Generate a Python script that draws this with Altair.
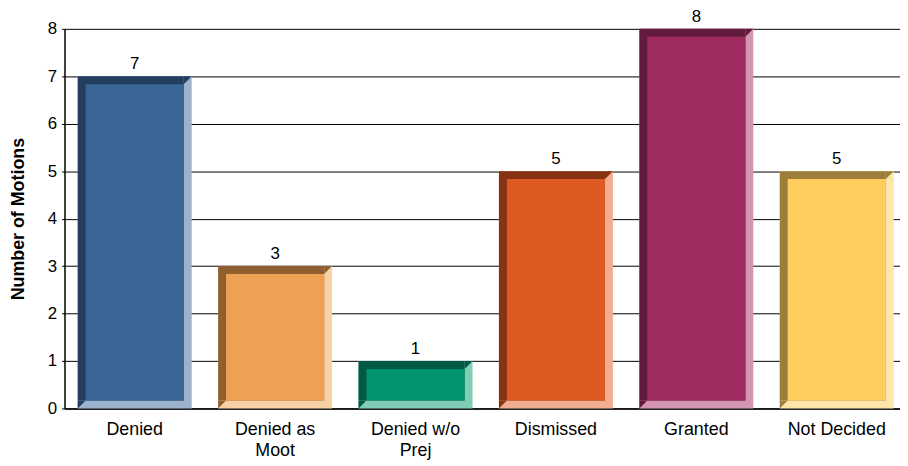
import altair as alt
import pandas as pd

categories = ["Denied", "Denied as Moot", "Denied w/o Prej", "Dismissed", "Granted", "Not Decided"]
values = [7, 3, 1, 5, 8, 5]
face_colors = ["#3A6696", "#EEA153", "#00956F", "#DE5A21", "#A02B60", "#FECD5E"]
dark_colors = ["#233E5E", "#8F5F30", "#005A43", "#873313", "#621B3C", "#9C7D3A"]
light_colors = ["#9CB2CD", "#F8D2A4", "#80CCB4", "#F1AD91", "#D495B1", "#FEE6AA"]

df = pd.DataFrame({"category": categories, "value": values})

FONT = "Liberation Sans"
W = 843
H = 383
BEVEL = 8
BAR = 115
TRI = "M-1,-1 L1,-1 L-1,1 Z"

label_expr = ("datum.value == 'Denied as Moot' ? ['Denied as', 'Moot'] : "
              "datum.value == 'Denied w/o Prej' ? ['Denied w/o', 'Prej'] : datum.value")

x = alt.X("category:N", sort=categories,
          scale=alt.Scale(paddingInner=0.184, paddingOuter=0.092, range=[0, 850]),
          axis=alt.Axis(title=None, labelAngle=0, labelExpr=label_expr, ticks=False,
                        labelPadding=12, labelLineHeight=21, labelFontSize=18,
                        labelFont=FONT, labelColor="black", domainColor="black",
                        domainWidth=1.5))
y = alt.Y("value:Q", scale=alt.Scale(domain=[0, 8]), stack=None,
          axis=alt.Axis(title="Number of Motions", values=list(range(9)), tickSize=3,
                        tickColor="black", labelPadding=5, labelFontSize=17,
                        labelFont=FONT, labelColor="black", titleFont=FONT,
                        titleFontSize=18, titleFontWeight="bold", titleColor="black",
                        titlePadding=20, grid=True, gridColor="black", gridWidth=1,
                        gridOpacity=1, domainColor="black", domainWidth=1.5))

def col(rng):
    return alt.Color("category:N", sort=categories,
                     scale=alt.Scale(domain=categories, range=rng), legend=None)

base = alt.Chart(df).encode(x=x, y=y)

light = base.mark_bar().encode(color=col(light_colors), size=alt.value(BAR))
dark = base.mark_bar(xOffset=-BEVEL / 2).encode(color=col(dark_colors),
                                                 size=alt.value(BAR - BEVEL),
                                                 y2=alt.value(H - BEVEL))
face = base.mark_bar(yOffset=BEVEL).encode(color=col(face_colors),
                                            size=alt.value(BAR - 2 * BEVEL),
                                            y2=alt.value(H - BEVEL))
tri_top = base.mark_point(shape=TRI, filled=True, opacity=1, strokeWidth=0,
                          xOffset=BAR / 2 - BEVEL / 2, yOffset=BEVEL / 2).encode(
    color=col(dark_colors), size=alt.value(BEVEL * BEVEL))
tri_bot = base.mark_point(shape=TRI, filled=True, opacity=1, strokeWidth=0,
                          xOffset=-BAR / 2 + BEVEL / 2).encode(
    color=col(dark_colors), size=alt.value(BEVEL * BEVEL), y=alt.value(H - BEVEL / 2))
text = base.mark_text(baseline="alphabetic", dy=-7, fontSize=17, font=FONT,
                      color="black").encode(text="value:Q")

chart = alt.layer(light, dark, face, tri_top, tri_bot, text).resolve_scale(
    color="independent").properties(
    width=W, height=H,
    autosize="none",
    padding={"left": 57, "top": 19, "right": 0, "bottom": 50},
).configure_view(stroke=None)

chart.save("out.html", embed_options={"renderer": "svg", "actions": False})
